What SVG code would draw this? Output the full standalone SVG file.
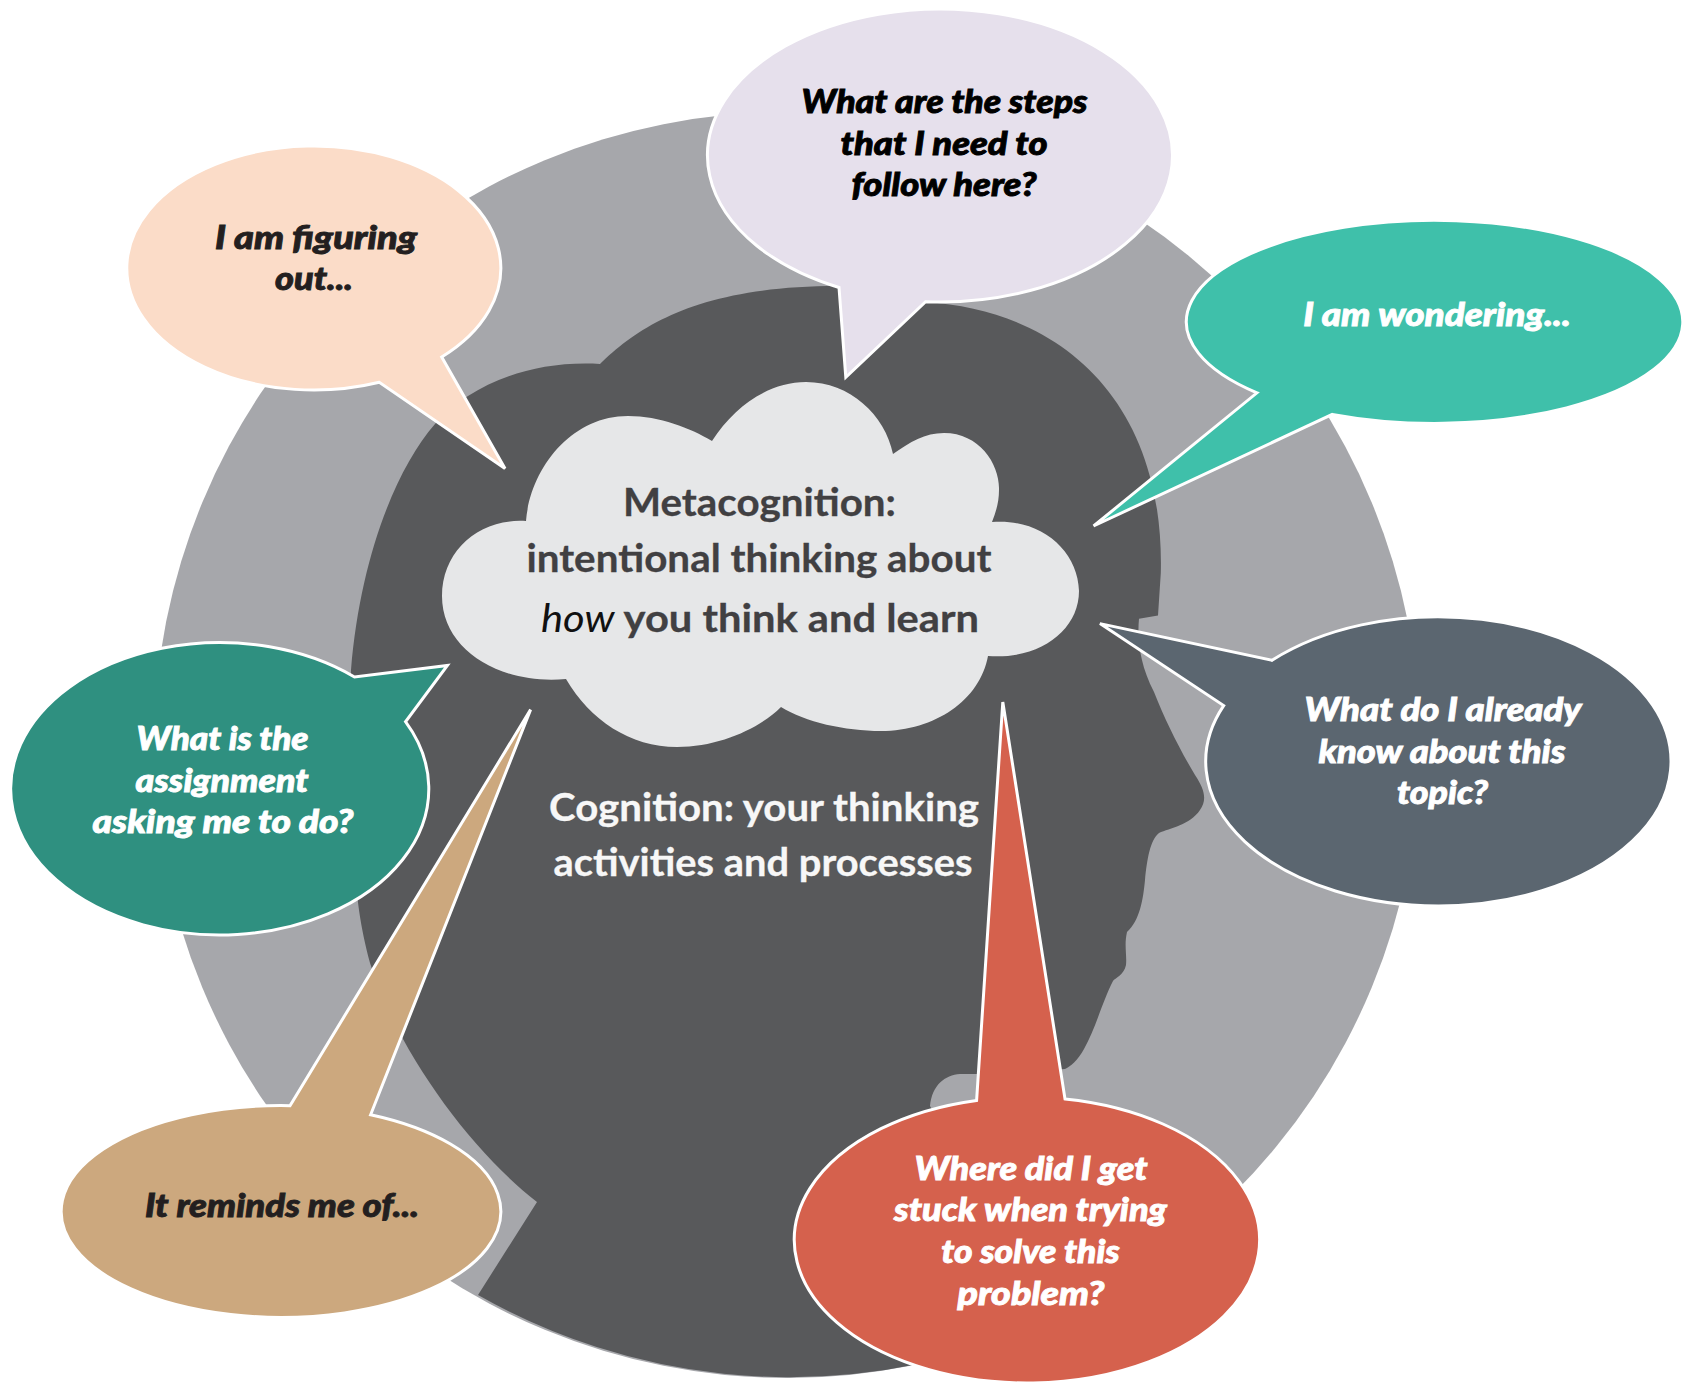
<svg xmlns="http://www.w3.org/2000/svg" width="1685" height="1383" viewBox="0 0 1685 1383">
<style>
.b{stroke:#fff;stroke-width:3;stroke-linejoin:miter}
.q{font-family:"Lato","Liberation Sans",sans-serif;font-weight:900;font-style:italic;font-size:33px;text-anchor:middle;stroke-width:.9}
.c{font-family:"Lato","Liberation Sans",sans-serif;font-weight:700;font-size:39px;text-anchor:middle;stroke-width:.3}
.w{fill:#fff;stroke:#fff}.k{fill:#000;stroke:#000}.d{fill:#231f20;stroke:#231f20}
.l{fill:#f7f7f7;stroke:#f7f7f7}.g{fill:#414042;stroke:#414042}
</style>
<rect width="1685" height="1383" fill="#fff"/>
<g id="outer-circle"><circle cx="787" cy="745" r="633" fill="#a6a7ab"/></g>
<g id="head">
<path fill="#58595b" d="M478,1295 L537,1202 C470,1150 397,1050 370,963 C360,925 357,900 354,860 C350,780 350,720 351,670 C360,560 395,470 435,424 C470,385 530,360 600,364 C640,325 700,286 838,286 C880,286 905,292 925,302 C1060,310 1165,400 1160.8,573 L1158,615.6 L1139,618.7 C1137,640 1140,665 1154,692 C1165,720 1180,750 1195,775 C1205,790 1207,800 1200,810 C1190,825 1170,828 1159,833 C1150,840 1147,860 1145,880 C1143,900 1140,920 1127,932 C1124,945 1127,955 1126,965 C1124,975 1115,978 1113,981 C1103,1000 1095,1030 1084,1049 C1078,1060 1070,1067 1065,1069 L1000,1074 L960,1074 C945,1075 932,1085 930,1106 L935,1115 L980,1348 A633,633 0 0 1 478,1295 Z"/>
<text class="c l" x="764" y="821" textLength="430" lengthAdjust="spacingAndGlyphs">Cognition: your thinking</text>
<text class="c l" x="763" y="876" textLength="419" lengthAdjust="spacingAndGlyphs">activities and processes</text>
</g>
<g id="cloud">
<path fill="#e6e7e8" d="M526,521 C530,470 570,416 628,416 C660,416 690,428 712,441 C735,405 770,382 806,382 C850,382 885,415 893,454 C910,442 925,433 944,433 C980,433 1000,465 999,490 C999,502 996,512 992,522 C1040,518 1078,550 1079,591 C1079,630 1040,660 988,656 C980,700 935,731 881,731 C845,731 805,722 781,707 C760,728 720,747 677,747 C630,747 590,720 566,679 C500,685 442,650 442,596 C442,550 480,518 526,521 Z"/>
<text class="c g" x="759.5" y="516" textLength="273" lengthAdjust="spacingAndGlyphs">Metacognition:</text>
<text class="c g" x="759" y="572" textLength="465" lengthAdjust="spacingAndGlyphs">intentional thinking about</text>
<text class="c g" x="760" y="632" textLength="438" lengthAdjust="spacingAndGlyphs"><tspan font-style="italic" font-weight="400" style="fill:#111;stroke:none">how</tspan> you think and learn</text>
</g>
<g id="bubble-figuring">
<path class="b" fill="#fbdcc8" d="M441.7,357 A187,122 0 1 0 379.3,382.27 L505,468.5 Z"/>
<text class="q d" x="316" y="248.5" textLength="202" lengthAdjust="spacingAndGlyphs">I am figuring</text>
<text class="q d" x="314" y="290" textLength="78" lengthAdjust="spacingAndGlyphs">out...</text>
</g>
<g id="bubble-steps">
<path class="b" fill="#e6e0ec" d="M925.6,301.72 A232.5,146.5 0 1 0 839,287.46 L845.8,377.3 Z"/>
<text class="q k" x="944.5" y="112.5" textLength="286" lengthAdjust="spacingAndGlyphs">What are the steps</text>
<text class="q k" x="944" y="154.5" textLength="207" lengthAdjust="spacingAndGlyphs">that I need to</text>
<text class="q k" x="944" y="195.5" textLength="185" lengthAdjust="spacingAndGlyphs">follow here?</text>
</g>
<g id="bubble-wondering">
<path class="b" fill="#3fc0aa" d="M1332.3,414.37 A248.2,101.55 0 1 0 1257,392.79 L1093.6,526 Z"/>
<text class="q w" x="1437" y="326" textLength="267.5" lengthAdjust="spacingAndGlyphs">I am wondering...</text>
</g>
<g id="bubble-know">
<path class="b" fill="#5b6670" d="M1223.7,705.6 A232.65,144.55 0 1 0 1272,660.29 L1100,623.6 Z"/>
<text class="q w" x="1443" y="721.3" textLength="277" lengthAdjust="spacingAndGlyphs">What do I already</text>
<text class="q w" x="1442" y="763" textLength="247" lengthAdjust="spacingAndGlyphs">know about this</text>
<text class="q w" x="1442.5" y="804" textLength="91" lengthAdjust="spacingAndGlyphs">topic?</text>
</g>
<g id="bubble-assignment">
<path class="b" fill="#2f9080" d="M354.5,677.03 A209.05,146.2 0 1 0 405.5,721.73 L447.4,665.5 Z"/>
<text class="q w" x="222.5" y="750" textLength="172" lengthAdjust="spacingAndGlyphs">What is the</text>
<text class="q w" x="222" y="791.6" textLength="173" lengthAdjust="spacingAndGlyphs">assignment</text>
<text class="q w" x="223" y="833" textLength="261" lengthAdjust="spacingAndGlyphs">asking me to do?</text>
</g>
<g id="bubble-reminds">
<path class="b" fill="#cca87e" d="M290,1105.69 A219.8,105.9 0 1 0 370.6,1114.8 L530.6,709.6 Z"/>
<text class="q d" x="282" y="1216.5" textLength="274" lengthAdjust="spacingAndGlyphs">It reminds me of...</text>
</g>
<g id="bubble-stuck">
<path class="b" fill="#d5614d" d="M976.6,1100.4 A232.65,143 0 1 0 1065,1098.94 L1002.8,702 Z"/>
<text class="q w" x="1031" y="1179.5" textLength="233" lengthAdjust="spacingAndGlyphs">Where did I get</text>
<text class="q w" x="1030.5" y="1221" textLength="273" lengthAdjust="spacingAndGlyphs">stuck when trying</text>
<text class="q w" x="1030.5" y="1263" textLength="178.5" lengthAdjust="spacingAndGlyphs">to solve this</text>
<text class="q w" x="1031" y="1304.5" textLength="147" lengthAdjust="spacingAndGlyphs">problem?</text>
</g>
</svg>
